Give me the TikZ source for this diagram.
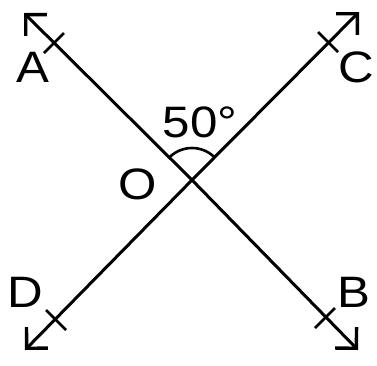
\documentclass[tikz,border=0pt]{standalone}
\usepackage{fontspec}
\setmainfont{Liberation Sans}
\usetikzlibrary{arrows.meta,calc}
\begin{document}
\begin{tikzpicture}[x=1pt,y=-1pt,
  ln/.style={line width=3pt,-{Straight Barb[length=15pt,width=30pt,line width=3.4pt]}},
  tick/.style={line width=2.8pt},
  lbl/.style={font=\fontsize{44}{44}\selectfont,inner sep=0pt,xscale=1.12}]
\useasboundingbox (0,0) rectangle (377,365);
\coordinate (O) at (192,180);
\coordinate (Aend) at (24,13);
\coordinate (Bend) at (358,350);
\coordinate (Cend) at (359,12);
\coordinate (Dend) at (25,350);
\draw[ln] (O) -- (Aend);
\draw[ln] (O) -- (Bend);
\draw[ln] (O) -- (Cend);
\draw[ln] (O) -- (Dend);
% ticks
\coordinate (tA) at (54,43);
\coordinate (tC) at (328,42);
\coordinate (tD) at (56,320);
\coordinate (tB) at (325,318);
\draw[tick] ($(tA)+(-10,10)$) -- ($(tA)+(10,-10)$);
\draw[tick] ($(tC)+(-10,-10)$) -- ($(tC)+(10,10)$);
\draw[tick] ($(tD)+(-10,-10)$) -- ($(tD)+(10,10)$);
\draw[tick] ($(tB)+(-10,10)$) -- ($(tB)+(10,-10)$);
% angle arc
\draw[line width=2.6pt] ($(O)+(225:32)$) arc[start angle=225,end angle=315,radius=32];
\node[lbl] (A) at (33,67) {A};
\node[lbl] (C) at (356,67) {C};
\node[lbl] (D) at (25,292) {D};
\node[lbl] (B) at (354,292) {B};
\node[lbl] (Olbl) at (138,184) {O};
\node[lbl] (ang) at (200,122) {50°};
\end{tikzpicture}
\end{document}
